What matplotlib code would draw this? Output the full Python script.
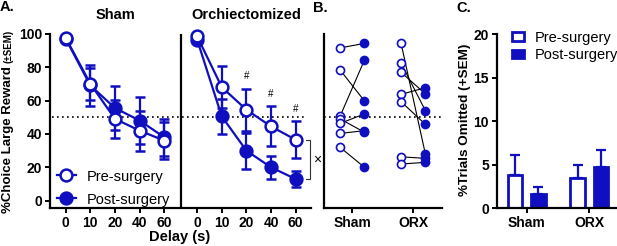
import matplotlib
matplotlib.use("Agg")
import matplotlib.pyplot as plt
import numpy as np
from matplotlib.patches import Patch
from matplotlib.lines import Line2D

plt.rcParams['font.family'] = ['Liberation Sans', 'DejaVu Sans']

BLUE = '#0f0fbf'

# ---------------- Panel A data ----------------
delay_labels = ['0', '10', '20', '40', '60']
sham_pre = [97.5, 70, 49, 42, 36]
sham_pre_sem = [1.0, 9.5, 11.5, 12, 11]
sham_post = [97, 69, 55.5, 48, 38]
sham_post_sem = [1.0, 12, 13, 14, 11]
orx_pre = [98.5, 68, 54.5, 44.5, 36.5]
orx_pre_sem = [1.0, 12.5, 12.5, 12, 11]
orx_post = [96.5, 50.5, 30, 20, 13]
orx_post_sem = [1.0, 10.5, 10.7, 7, 5]

# ---------------- Panel B data ----------------
b_groups = ['Sham', 'ORX']
b_sham_pre = [91.5, 78.3, 50.6, 49.0, 46.3, 40.3, 32.0]
b_sham_post = [94.2, 59.7, 84.3, 41.0, 52.0, 42.0, 20.0]
b_orx_pre = [94.2, 82.3, 76.9, 63.7, 59.3, 26.3, 22.0]
b_orx_post = [27.7, 53.9, 63.9, 67.7, 45.7, 25.4, 23.0]

# ---------------- Panel C data ----------------
c_groups = ['Sham', 'ORX']
omit_pre = [3.8, 3.45]
omit_pre_sem = [2.35, 1.55]
omit_post = [1.7, 4.8]
omit_post_sem = [0.8, 1.85]

fig = plt.figure(figsize=(6.17, 2.46), dpi=100)

W, H = 617.0, 246.0
def rect(l, r, t, b):
    return [l / W, 1 - b / H, (r - l) / W, (b - t) / H]

TICK = 10

# ================= Panel A =================
axA = fig.add_axes(rect(50, 311, 33.7, 208.3))
idx = np.arange(len(delay_labels))
orx_off = 5.33
xs_sham = idx
xs_orx = idx + orx_off

ekw = dict(capsize=3.5, elinewidth=1.6, capthick=1.6, lw=1.6, ms=8.5, mew=1.8,
           color=BLUE, mec=BLUE, clip_on=False)
axA.errorbar(xs_sham, sham_post, yerr=sham_post_sem, fmt='o-', mfc=BLUE, zorder=3, **ekw)
axA.errorbar(xs_sham, sham_pre, yerr=sham_pre_sem, fmt='o-', mfc='white', zorder=4, **ekw)
axA.errorbar(xs_orx, orx_post, yerr=orx_post_sem, fmt='o-', mfc=BLUE, zorder=3, **ekw)
axA.errorbar(xs_orx, orx_pre, yerr=orx_pre_sem, fmt='o-', mfc='white', zorder=4, **ekw)

axA.hlines(50, -0.55, 9.75, colors='black', linestyles=(0, (1, 2)), lw=1.2, zorder=1)
axA.axvline(4.69, color='black', lw=1.6, zorder=2)

for i in [2, 3, 4]:
    axA.text(xs_orx[i], orx_pre[i] + orx_pre_sem[i] + 4.5, '#', ha='center', va='bottom',
             fontsize=7)

# significance bracket between ORX pre and post at 60
xb = xs_orx[4] + 0.58
axA.plot([xb - 0.15, xb, xb, xb - 0.15], [orx_pre[4], orx_pre[4], orx_post[4], orx_post[4]],
         color='#333333', lw=0.8, clip_on=False)
axA.text(xb + 0.28, (orx_pre[4] + orx_post[4]) / 2, '×', ha='center', va='center', fontsize=10)

axA.set_xlim(-0.637, 9.95)
axA.set_ylim(-4.5, 100)
axA.set_yticks([0, 20, 40, 60, 80, 100])
axA.set_xticks(np.concatenate([xs_sham, xs_orx]))
axA.set_xticklabels(delay_labels + delay_labels)
for s in ['top', 'right']:
    axA.spines[s].set_visible(False)
for s in ['left', 'bottom']:
    axA.spines[s].set_linewidth(1.6)
axA.tick_params(width=1.4, length=3.5, pad=2, labelsize=TICK)
for lab in axA.get_xticklabels() + axA.get_yticklabels():
    lab.set_fontweight('bold')

handles = [Line2D([], [], color=BLUE, marker='o', mfc='white', mec=BLUE, ms=8.5, mew=1.8, lw=1.6),
           Line2D([], [], color=BLUE, marker='o', mfc=BLUE, mec=BLUE, ms=8.5, mew=1.8, lw=1.6)]
axA.legend(handles, ['Pre-surgery', 'Post-surgery'], loc='lower left',
           bbox_to_anchor=(0.026, 0.01), frameon=False, borderpad=0, borderaxespad=0,
           handlelength=1.3, handletextpad=0.75, labelspacing=0.62, fontsize=10.5)

fig.text(115 / W, 1 - 15 / H, 'Sham', ha='center', va='center', fontsize=10.5, fontweight='bold')
fig.text(246 / W, 1 - 15 / H, 'Orchiectomized', ha='center', va='center', fontsize=10.5,
         fontweight='bold')
fig.text(180 / W, 1 - 237 / H, 'Delay (s)', ha='center', va='center', fontsize=10.5,
         fontweight='bold')
ylab_main = fig.text(8 / W, 1 - 213 / H, '%Choice Large Reward', rotation=90, ha='center',
                     va='bottom', fontsize=9.5, fontweight='bold')
fig.canvas.draw()
bb = ylab_main.get_window_extent(renderer=fig.canvas.get_renderer())
fig.text(8 / W, (bb.y1 + 3) / H, '(±SEM)', rotation=90, ha='center', va='bottom',
         fontsize=7, fontweight='bold')

# ================= Panel B =================
axB = fig.add_axes(rect(324, 441.7, 33.7, 208.3))
bx = np.arange(len(b_groups))
off = 0.2
for g, (pre, post) in enumerate([(b_sham_pre, b_sham_post), (b_orx_pre, b_orx_post)]):
    for a, b in zip(pre, post):
        axB.plot([bx[g] - off, bx[g] + off], [a, b], color='black', lw=0.8, zorder=2)
    axB.plot(np.full(len(pre), bx[g] - off), pre, 'o', ms=5.8, mfc='white', mec=BLUE,
             mew=1.2, zorder=3, clip_on=False)
    axB.plot(np.full(len(post), bx[g] + off), post, 'o', ms=5.8, mfc=BLUE, mec=BLUE,
             mew=1.2, zorder=3, clip_on=False)
axB.axhline(50, color='black', ls=(0, (1, 2)), lw=1.2, zorder=1)
axB.set_xlim(-0.464, 1.466)
axB.set_ylim(-4.5, 100)
axB.set_yticks([])
axB.set_xticks(bx)
axB.set_xticklabels(b_groups)
for s in ['top', 'right']:
    axB.spines[s].set_visible(False)
for s in ['left', 'bottom']:
    axB.spines[s].set_linewidth(1.6)
axB.tick_params(width=1.4, length=3.5, pad=2, labelsize=TICK)
for lab in axB.get_xticklabels():
    lab.set_fontweight('bold')

# ================= Panel C =================
axC = fig.add_axes(rect(496.7, 617, 34.3, 208.3))
cx = np.arange(len(c_groups))
bw = 0.235
bo = 0.187
axC.bar(cx - bo, omit_pre, width=bw, color='white', edgecolor=BLUE, lw=2, zorder=2)
axC.bar(cx + bo, omit_post, width=bw, color=BLUE, edgecolor=BLUE, lw=2, zorder=2)
axC.errorbar(cx - bo, omit_pre, yerr=[np.zeros(len(omit_pre)), omit_pre_sem], fmt='none',
             ecolor=BLUE, elinewidth=1.6, capsize=3.5, capthick=1.6, zorder=1)
axC.errorbar(cx + bo, omit_post, yerr=[np.zeros(len(omit_post)), omit_post_sem], fmt='none',
             ecolor=BLUE, elinewidth=1.6, capsize=3.5, capthick=1.6, zorder=1)
axC.set_xlim(-0.479, 1.442)
axC.set_ylim(0, 20)
axC.set_yticks([0, 5, 10, 15, 20])
axC.set_xticks(cx)
axC.set_xticklabels(c_groups)
for s in ['top', 'right']:
    axC.spines[s].set_visible(False)
for s in ['left', 'bottom']:
    axC.spines[s].set_linewidth(1.6)
axC.tick_params(width=1.4, length=3.5, pad=2, labelsize=TICK)
for lab in axC.get_xticklabels() + axC.get_yticklabels():
    lab.set_fontweight('bold')
chandles = [Patch(facecolor='white', edgecolor=BLUE, lw=2), Patch(facecolor=BLUE, edgecolor=BLUE, lw=2)]
axC.legend(chandles, ['Pre-surgery', 'Post-surgery'], loc='upper left',
           bbox_to_anchor=(0.125, 1.02), frameon=False, borderpad=0, borderaxespad=0,
           handlelength=0.85, handleheight=0.5, handletextpad=0.7, labelspacing=0.25,
           fontsize=10.5)
fig.text(465 / W, 1 - 120 / H, '%Trials Omitted (+SEM)', rotation=90, ha='center',
         va='center', fontsize=9.7, fontweight='bold')

# Panel letters
fig.text(0 / W, 1 - 7 / H, 'A.', ha='left', va='center', fontsize=10.5, fontweight='bold')
fig.text(313 / W, 1 - 7.5 / H, 'B.', ha='left', va='center', fontsize=10.5, fontweight='bold')
fig.text(456.7 / W, 1 - 7.5 / H, 'C.', ha='left', va='center', fontsize=10.5, fontweight='bold')

fig.savefig('out.png', dpi=100)
